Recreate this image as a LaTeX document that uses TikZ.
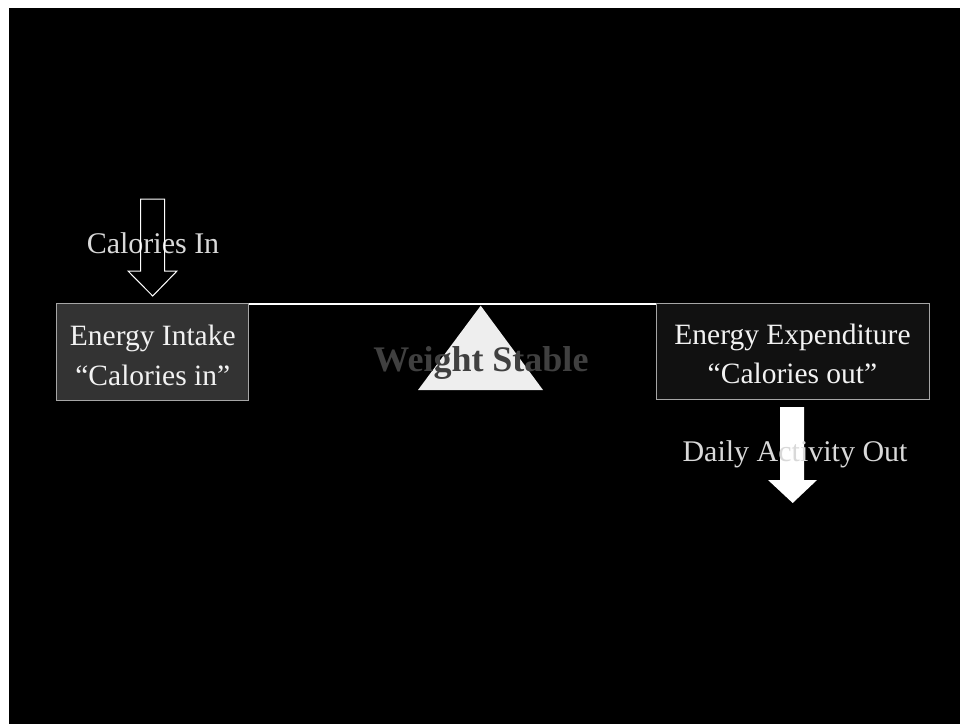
\documentclass[tikz,border=0pt]{standalone}
\usepackage{fontspec}
\setmainfont{Liberation Serif}
\definecolor{intakefill}{HTML}{333333}
\definecolor{outfill}{HTML}{111111}
\definecolor{boxborder}{HTML}{A6A6A6}
\definecolor{boxtext}{HTML}{F2F2F2}
\definecolor{labeltext}{HTML}{D9D9D9}
\definecolor{fulcrumfill}{HTML}{EEEEEE}
\definecolor{stabletext}{HTML}{404040}
\tikzset{
  energybox/.style={draw=boxborder, line width=1pt, inner sep=0pt},
  boxlabel/.style={align=center, text=boxtext, font=\fontsize{29.5}{39.5}\selectfont, inner sep=0pt},
  flowlabel/.style={text=labeltext, font=\fontsize{30}{36}\selectfont, inner sep=0pt},
  hollowarrow/.style={draw=white, line width=1pt, line join=miter},
  solidarrow/.style={fill=white},
  beam/.style={draw=white, line width=2pt},
}
\begin{document}
\begin{tikzpicture}[x=1pt,y=-1pt]
\useasboundingbox (0,0) rectangle (960,724);
\fill[white] (0,0) rectangle (960,724);
\fill[black] (9,8) rectangle (960,724);
% boxes
\node[energybox, fill=intakefill, minimum width=192pt, minimum height=97pt] (intake) at (152.8,351.5) {};
\node[boxlabel] (intaketext) at ([yshift=-4pt]intake.center) {Energy Intake\\``Calories in''};
\node[energybox, fill=outfill, minimum width=273pt, minimum height=96pt] (expend) at (792.5,351) {};
\node[boxlabel] (expendtext) at ([yshift=-3pt]expend.center) {Energy Expenditure\\``Calories out''};
% beam
\draw[beam] ([yshift=-1pt]intake.north east) -- ([yshift=-1pt]expend.north west);
% fulcrum
\fill[fulcrumfill] (480.7,305.7) -- (543,390) -- (418,390) -- cycle;
\node[text=stabletext, font=\bfseries\fontsize{36}{42}\selectfont, inner sep=0pt] (stable) at (481,363) {Weight Stable};
% calories in
\node[flowlabel] (calin) at (153,243) {Calories In};
\draw[hollowarrow] (140.7,199) -- (164.7,199) -- (164.7,271) -- (177,271) -- (152.7,296) -- (128,271) -- (140.7,271) -- cycle;
% daily activity out
\fill[solidarrow] (780,407) -- (804,407) -- (804,480) -- (817,480) -- (792.7,503) -- (768,480) -- (780,480) -- cycle;
\node[flowlabel] (actout) at (795,454) {Daily Activity Out};
\end{tikzpicture}
\end{document}
